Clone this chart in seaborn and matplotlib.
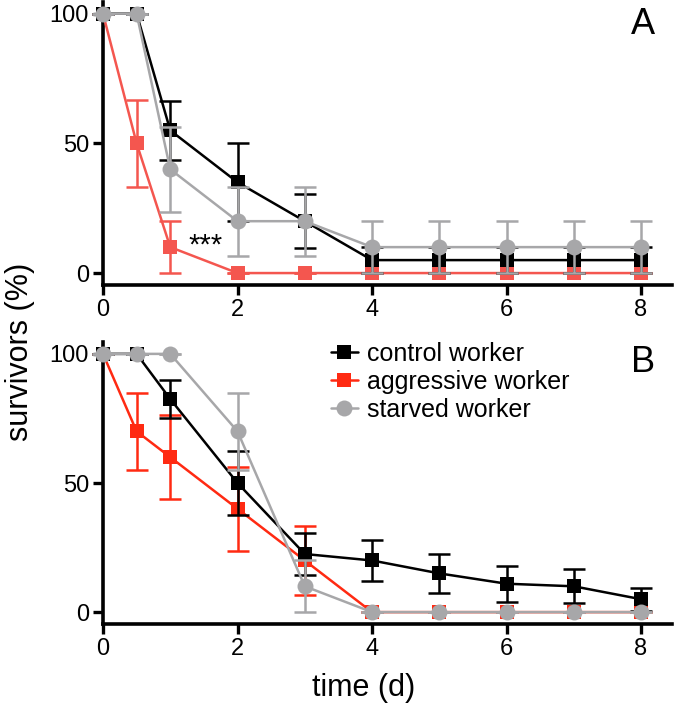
import matplotlib
matplotlib.use("Agg")
import matplotlib.pyplot as plt
import seaborn as sns
import numpy as np

sns.set_theme(style="ticks")
plt.rcParams['font.family'] = ['Liberation Sans', 'DejaVu Sans']
plt.rcParams['text.color'] = 'black'
plt.rcParams['axes.labelcolor'] = 'black'
plt.rcParams['xtick.color'] = 'black'
plt.rcParams['ytick.color'] = 'black'

# ---- data ----
days = [0, 0.5, 1, 2, 3, 4, 5, 6, 7, 8]

a_control = [100, 100, 55, 35, 20, 5, 5, 5, 5, 5]
a_control_err = [0, 0, 11.5, 15, 10.5, 5, 5, 5, 5, 5]
a_aggressive = [100, 50, 10, 0, 0, 0, 0, 0, 0, 0]
a_aggressive_err = [0, 16.7, 10, 0, 0, 0, 0, 0, 0, 0]
a_starved = [100, 100, 40, 20, 20, 10, 10, 10, 10, 10]
a_starved_err = [0, 0, 16.3, 13.3, 13.3, 10, 10, 10, 10, 10]

b_control = [100, 100, 82.5, 50, 22.5, 20, 15, 11, 10, 5]
b_control_err = [0, 0, 7.3, 12.5, 8, 8, 7.5, 7, 6.6, 4.5]
b_aggressive = [100, 70, 60, 40, 20, 0, 0, 0, 0, 0]
b_aggressive_err = [0, 15, 16.3, 16.3, 13.3, 0, 0, 0, 0, 0]
b_starved = [100, 100, 100, 70, 10, 0, 0, 0, 0, 0]
b_starved_err = [0, 0, 0, 15, 10, 0, 0, 0, 0, 0]

labels = ["control worker", "aggressive worker", "starved worker"]
xticks = [0, 2, 4, 6, 8]
yticks = [0, 50, 100]

BLACK = "#000000"
RED_A = "#f4564f"
RED_B = "#ff2a12"
GREY = "#a7a7a9"

W, H = 675, 708
fig = plt.figure(figsize=(W / 100, H / 100), dpi=100)
axA = fig.add_axes([103 / W, 1 - 285 / H, (672 - 103) / W, (285 - 2) / H])
axB = fig.add_axes([103 / W, 1 - 624 / H, (672 - 103) / W, (624 - 342) / H])


def draw(ax, series, ylim):
    for (vals, errs, color, marker, ms, label, z) in series:
        ax.errorbar(days, vals, yerr=errs, fmt='none', ecolor=color,
                    elinewidth=1.8, capsize=8, capthick=1.8, zorder=z,
                    clip_on=False)
        sns.lineplot(x=days, y=vals, ax=ax, color=color, marker=marker,
                     markersize=ms, markeredgewidth=0, linewidth=1.8,
                     label=label, zorder=z + 0.5, clip_on=False)
    ax.set_xlim(0, 8.46)
    ax.set_ylim(*ylim)
    ax.set_xticks(xticks)
    ax.set_yticks(yticks)
    ax.set_xlabel("")
    ax.set_ylabel("")
    for s in ["top", "right"]:
        ax.spines[s].set_visible(False)
    for s in ["left", "bottom"]:
        ax.spines[s].set_linewidth(2.6)
        ax.spines[s].set_color("black")
    ax.tick_params(axis='both', direction='out', length=7, width=2.4,
                   color='black', labelsize=17, labelcolor='black', pad=3)
    ax.set_facecolor('none')


draw(axA, [
    (a_aggressive, a_aggressive_err, RED_A, 's', 10.5, labels[1], 3),
    (a_control, a_control_err, BLACK, 's', 10.5, labels[0], 4),
    (a_starved, a_starved_err, GREY, 'o', 11.5, labels[2], 5),
], (-4.6, 104.5))

draw(axB, [
    (b_aggressive, b_aggressive_err, RED_B, 's', 10.5, labels[1], 3),
    (b_control, b_control_err, BLACK, 's', 10.5, labels[0], 4),
    (b_starved, b_starved_err, GREY, 'o', 11.5, labels[2], 5),
], (-4.6, 104.6))

if axA.legend_:
    axA.legend_.remove()
handles, labs = axB.get_legend_handles_labels()
order = [labs.index(l) for l in labels]
leg = axB.legend([handles[i] for i in order], [labs[i] for i in order],
                 loc='upper left', bbox_to_anchor=(0.40, 1.0), frameon=False,
                 fontsize=18, handlelength=1.1, handletextpad=0.35,
                 labelspacing=0.15, borderpad=0, borderaxespad=0)
for t in leg.get_texts():
    t.set_color('black')

axA.text(1.52, 10.5, "***", fontsize=21, ha='center', va='center', color='black')

fig.text(643 / W, 1 - 25 / H, "A", fontsize=26, ha='center', va='center')
fig.text(643 / W, 1 - 362 / H, "B", fontsize=26, ha='center', va='center')
fig.text(20 / W, 1 - 352 / H, "survivors (%)", fontsize=22, rotation=90,
         ha='center', va='center')
fig.text(364 / W, 1 - 688 / H, "time (d)", fontsize=22, ha='center', va='center')

fig.savefig("out.png", dpi=100)
